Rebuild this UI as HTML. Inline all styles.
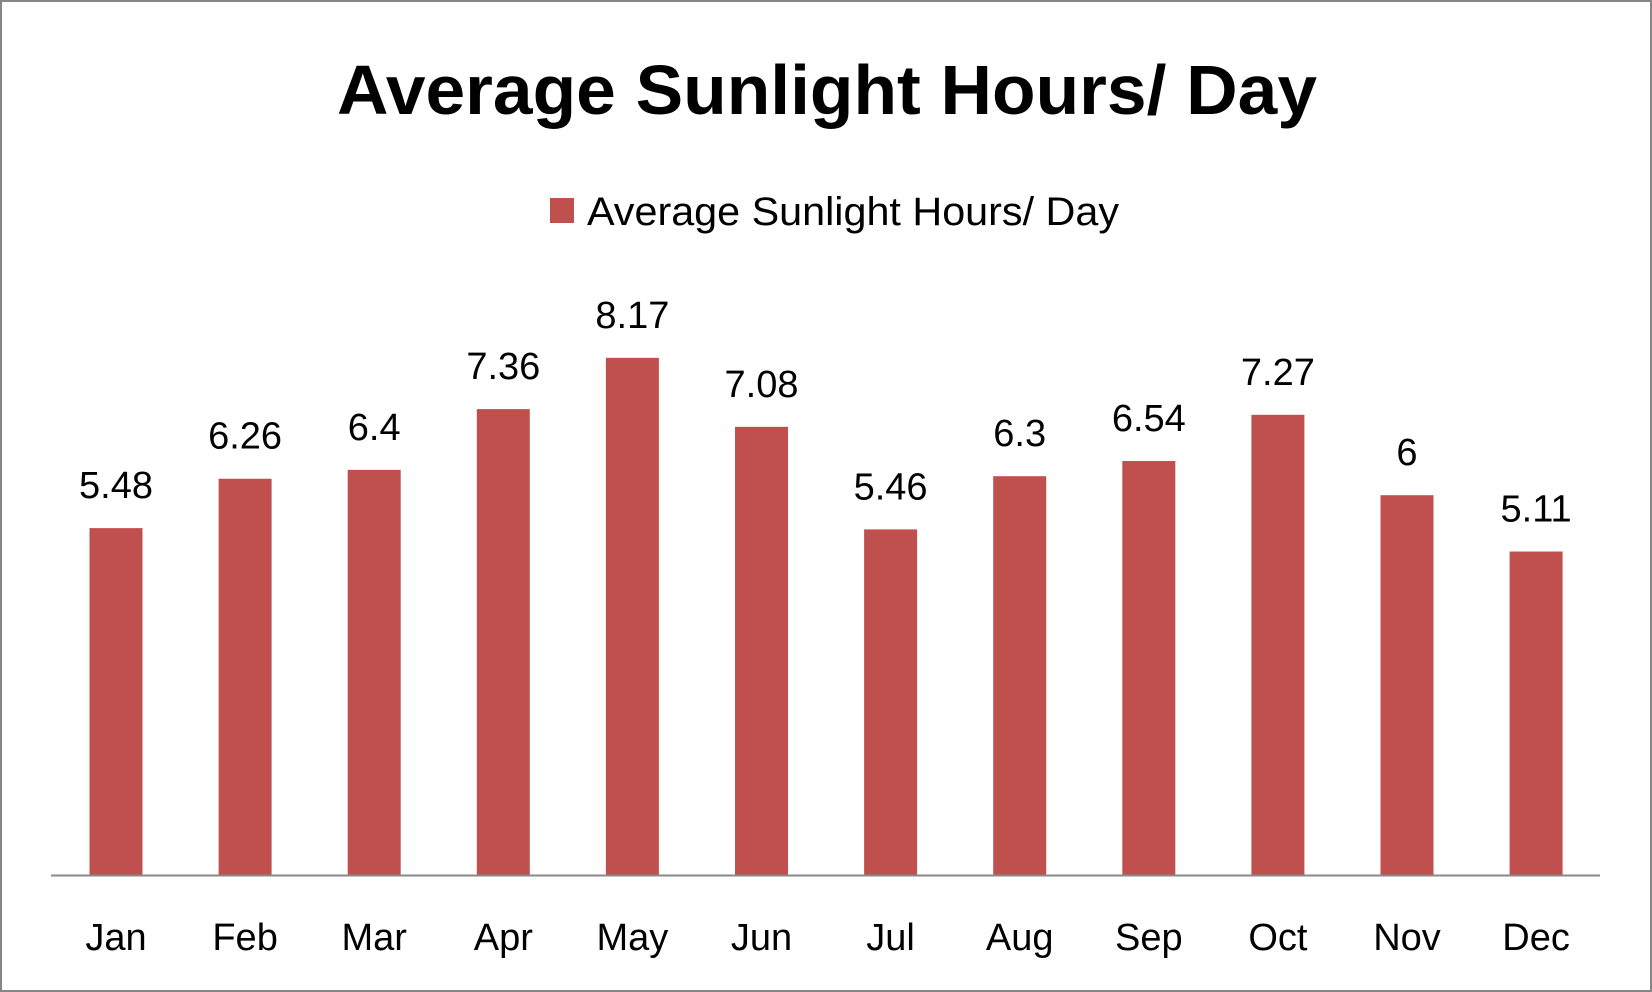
<!DOCTYPE html>
<html><head><meta charset="utf-8"><style>
html,body{margin:0;padding:0;background:#fff}
svg{display:block;font-family:"Liberation Sans",sans-serif}
</style></head><body>
<svg id="chart" width="1652" height="992" viewBox="0 0 1652 992">
<rect x="1" y="1" width="1650" height="990" fill="#fff" stroke="#868686" stroke-width="2"/>
<text x="827" y="114" text-anchor="middle" font-size="70" font-weight="bold" textLength="980" lengthAdjust="spacingAndGlyphs">Average Sunlight Hours/ Day</text>
<rect x="550" y="198" width="24" height="25" fill="#C0504D"/>
<text x="587" y="225" font-size="40" textLength="532" lengthAdjust="spacingAndGlyphs">Average Sunlight Hours/ Day</text>
<g id="bars"></g>
<line x1="51" y1="875.5" x2="1600" y2="875.5" stroke="#898989" stroke-width="2"/>
</svg>
<script>
const categories = ["Jan","Feb","Mar","Apr","May","Jun","Jul","Aug","Sep","Oct","Nov","Dec"];
const values = [5.48,6.26,6.4,7.36,8.17,7.08,5.46,6.3,6.54,7.27,6,5.11];
const valueLabels = ["5.48","6.26","6.4","7.36","8.17","7.08","5.46","6.3","6.54","7.27","6","5.11"];
const NS="http://www.w3.org/2000/svg";
const baseY=875, perUnit=63.3, x0=116, step=129.1, barW=53;
function xPos(i){return x0+i*step;}
function yPos(v){return baseY-v*perUnit;}
const g=document.getElementById('bars');
categories.forEach((c,i)=>{
  const v=values[i], cx=xPos(i), top=yPos(v);
  const r=document.createElementNS(NS,'rect');
  
  
  r.setAttribute('x',cx-barW/2);r.setAttribute('y',top);
  r.setAttribute('width',barW);r.setAttribute('height',baseY-top);
  r.setAttribute('fill','#C0504D');
  g.appendChild(r);
  const t=document.createElementNS(NS,'text');
  
  
  t.setAttribute('x',cx);t.setAttribute('y',top-30);
  t.setAttribute('text-anchor','middle');t.setAttribute('font-size','38');
  t.textContent=valueLabels[i];
  g.appendChild(t);
  const m=document.createElementNS(NS,'text');
  
  
  m.setAttribute('x',cx);m.setAttribute('y',950);
  m.setAttribute('text-anchor','middle');m.setAttribute('font-size','38');
  m.textContent=c;
  g.appendChild(m);
});
</script>
</body></html>
